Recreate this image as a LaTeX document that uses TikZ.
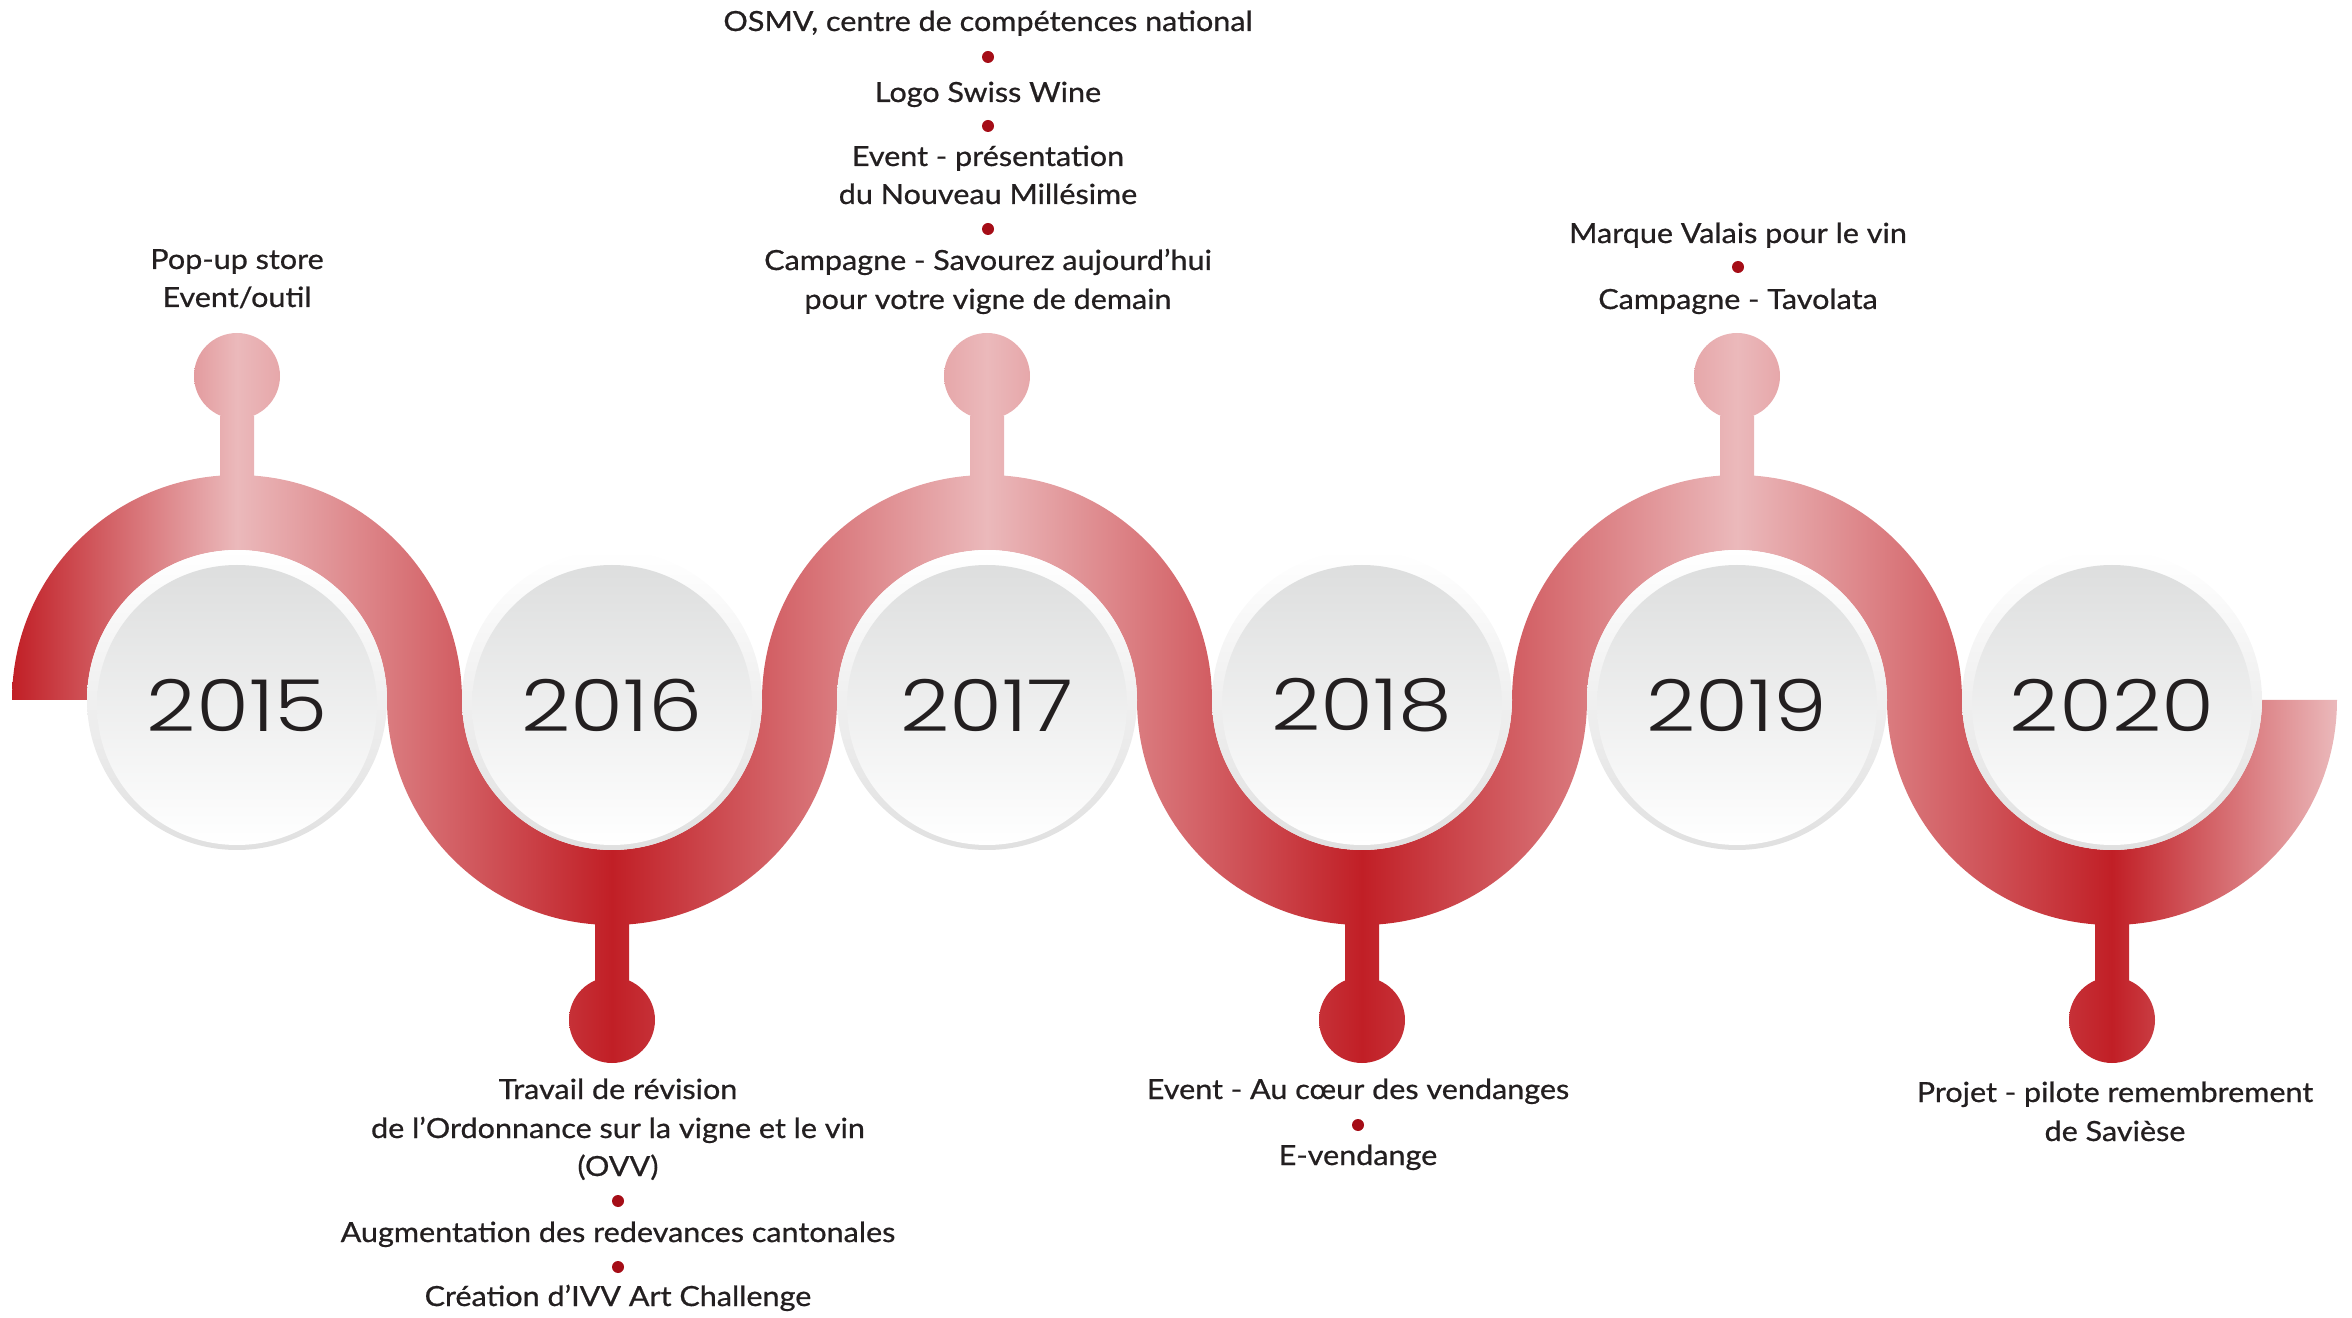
\documentclass[tikz,border=0pt]{standalone}
\usepackage{fontspec}
\setmainfont{Lato}[FakeStretch=1.1, FakeBold=0.7]
\newfontfamily\yearfont{Poppins Light}[FakeStretch=1.2]
\usepackage{tikz}
\usetikzlibrary{positioning}
\definecolor{rdark}{RGB}{193,31,38}
\definecolor{rlight}{RGB}{235,185,187}
\definecolor{dotred}{RGB}{165,13,23}
\definecolor{ink}{RGB}{35,31,32}
\definecolor{ringgray}{RGB}{224,224,224}
\definecolor{diskgray}{RGB}{221,222,222}
\pgfdeclarehorizontalshading{ribbonshade}{100bp}{color(0bp)=(rdark); color(25bp)=(rdark); color(29.84bp)=(rlight); color(37.9bp)=(rdark); color(45.97bp)=(rlight); color(54.03bp)=(rdark); color(62.1bp)=(rlight); color(70.16bp)=(rdark); color(75bp)=(rlight); color(100bp)=(rlight)}
\tikzstyle{redpart} = [path picture={\shade[shading=ribbonshade] (12,0) rectangle (2337,1317);}]
\tikzstyle{ring} = [top color=white, bottom color=ringgray]
\tikzstyle{year} = [circle, minimum size=28mm, inner sep=0pt, top color=diskgray, bottom color=white, text=ink, font=\yearfont\fontsize{20.4}{24}\selectfont]
\tikzstyle{txt} = [anchor=base, inner sep=0pt, text=ink, font=\fontsize{7.9}{9.5}\selectfont]
\tikzstyle{bullet} = [fill=dotred]

\begin{document}
\begin{tikzpicture}[x=0.1mm, y=0.1mm]
		\useasboundingbox (0,0) rectangle (2352,1317);
		\coordinate (c15) at (237,617);
		\coordinate (c16) at (612,617);
		\coordinate (c17) at (987,617);
		\coordinate (c18) at (1362,617);
		\coordinate (c19) at (1737,617);
		\coordinate (c20) at (2112,617);
		% Ribbon
		\path[redpart] (12,617) arc[start angle=180, end angle=0, radius=225]
			arc[start angle=180, end angle=360, radius=150]
			arc[start angle=180, end angle=0, radius=225]
			arc[start angle=180, end angle=360, radius=150]
			arc[start angle=180, end angle=0, radius=225]
			arc[start angle=180, end angle=360, radius=150]
			-- (2337,617)
			arc[start angle=0, end angle=-180, radius=225]
			arc[start angle=0, end angle=180, radius=150]
			arc[start angle=0, end angle=-180, radius=225]
			arc[start angle=0, end angle=180, radius=150]
			arc[start angle=0, end angle=-180, radius=225]
			arc[start angle=0, end angle=180, radius=150]
			-- cycle;
		% Stems and balls
		\path[redpart] (220,840) rectangle (254,900);
		\path[redpart] (237,941) circle (43);
		\path[redpart] (970,840) rectangle (1004,900);
		\path[redpart] (987,941) circle (43);
		\path[redpart] (1720,840) rectangle (1754,900);
		\path[redpart] (1737,941) circle (43);
		\path[redpart] (595,336) rectangle (629,394);
		\path[redpart] (612,297) circle (43);
		\path[redpart] (1345,336) rectangle (1379,394);
		\path[redpart] (1362,297) circle (43);
		\path[redpart] (2095,336) rectangle (2129,394);
		\path[redpart] (2112,297) circle (43);
		% Years
		\shade[ring] (c15) circle (150);
		\shade[ring] (c16) circle (150);
		\shade[ring] (c17) circle (150);
		\shade[ring] (c18) circle (150);
		\shade[ring] (c19) circle (150);
		\shade[ring] (c20) circle (150);
		\begin{scope}[every node/.style={year, yshift=-0.5mm}]
		\node (y15) at (c15) {2015};
		\node (y16) at (c16) {2016};
		\node (y17) at (c17) {2017};
		\node (y18) at (c18) {2018};
		\node (y19) at (c19) {2019};
		\node (y20) at (c20) {2020};
		\end{scope}
		% 2015
		\node[txt] (t15a) at (237,1048) {Pop-up store};
		\node[txt] (t15b) at (237,1010) {Event/outil};
		% 2016
		\node[txt] (t16a) at (618,218) {Travail de révision};
		\node[txt] (t16b) at (618,179) {de l’Ordonnance sur la vigne et le vin};
		\node[txt] (t16c) at (618,141) {(OVV)};
		\fill[bullet] (618,116) circle (6);
		\node[txt] (t16d) at (618,75) {Augmentation des redevances cantonales};
		\fill[bullet] (618,50) circle (6);
		\node[txt] (t16e) at (618,11) {Création d’IVV Art Challenge};
		% 2017
		\node[txt] (t17a) at (988,1286) {OSMV, centre de compétences national};
		\fill[bullet] (988,1260) circle (6);
		\node[txt] (t17b) at (988,1215) {Logo Swiss Wine};
		\fill[bullet] (988,1191) circle (6);
		\node[txt] (t17c) at (988,1151) {Event - présentation};
		\node[txt] (t17d) at (988,1113) {du Nouveau Millésime};
		\fill[bullet] (988,1088) circle (6);
		\node[txt] (t17e) at (988,1047) {Campagne - Savourez aujourd’hui};
		\node[txt] (t17f) at (988,1008) {pour votre vigne de demain};
		% 2018
		\node[txt] (t18a) at (1358,218) {Event - Au cœur des vendanges};
		\fill[bullet] (1358,192) circle (6);
		\node[txt] (t18b) at (1358,152) {E-vendange};
		% 2019
		\node[txt] (t19a) at (1738,1074) {Marque Valais pour le vin};
		\fill[bullet] (1738,1050) circle (6);
		\node[txt] (t19b) at (1738,1008) {Campagne - Tavolata};
		% 2020
		\node[txt] (t20a) at (2115,215) {Projet - pilote remembrement};
		\node[txt] (t20b) at (2115,176) {de Savièse};
\end{tikzpicture}
\end{document}
